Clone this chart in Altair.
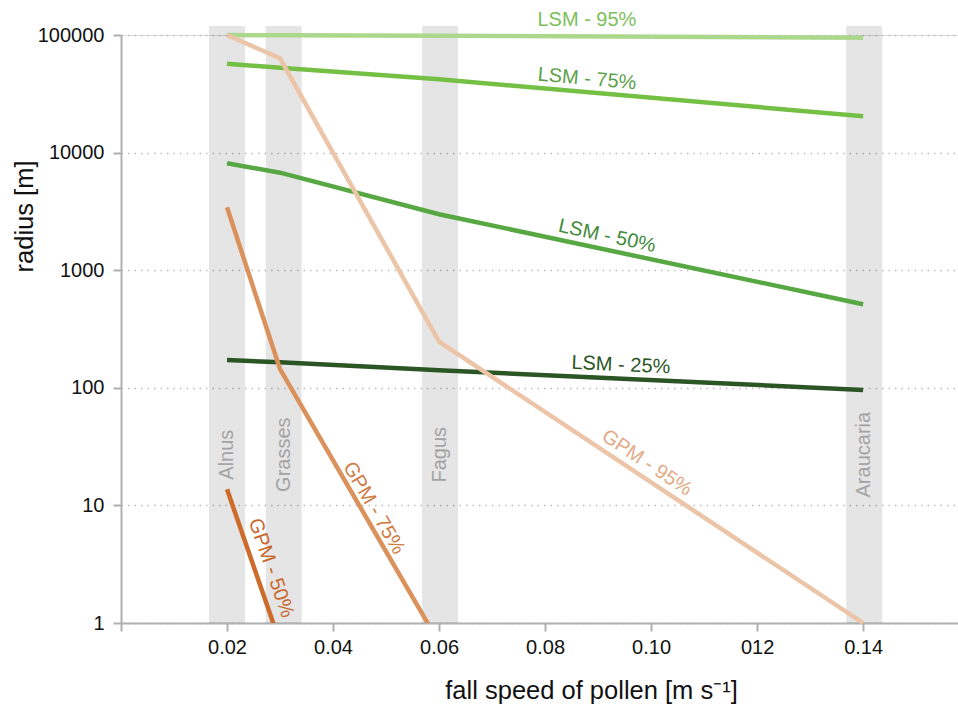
import altair as alt
import pandas as pd

FONT = "Liberation Sans"

# ---- data -------------------------------------------------------------
speeds = [0.02, 0.03, 0.06, 0.14]

series_names = ["LSM - 95%", "LSM - 75%", "LSM - 50%", "LSM - 25%",
                "GPM - 95%", "GPM - 75%", "GPM - 50%"]
lsm95 = [100000, 99300, 98600, 94800]
lsm75 = [57000, 52700, 42000, 20400]
lsm50 = [8110, 6750, 2990, 513]
lsm25 = [172, 165, 141, 96]
gpm95 = [100000, 63400, 247, 1]
gpm75 = [3430, 144, 0.68]
gpm50 = [13.7, 0.68]

line_colors = ["#acd88b", "#74c044", "#57a843", "#2c5525",
               "#ecc5a8", "#db915b", "#cd6b2b"]
label_colors = ["#7cc05a", "#5b9f48", "#3e8a3a", "#2c5525",
                "#e3aa86", "#d07a3f", "#c8662c"]

# label anchor points (data coords) and rotation
label_x = [0.0879, 0.0879, 0.0917, 0.0943, 0.0992, 0.0477, 0.0283]
label_y = [134200, 42300, 1955, 156, 23, 9.5, 2.94]
label_angle = [0, 5, 12, 2.6, 33.6, 59.8, 70.9]

band_names = ["Alnus", "Grasses", "Fagus", "Araucaria"]
band_speeds = [0.02, 0.0307, 0.0602, 0.1402]
band_label_y = 27

x_tick_values = [0, 0.02, 0.04, 0.06, 0.08, 0.10, 0.12, 0.14]
x_tick_labels = ["", "0.02", "0.04", "0.06", "0.08", "0.10", "012", "0.14"]
y_tick_values = [1, 10, 100, 1000, 10000, 100000]

# ---- tables -------------------------------------------------------------
all_vals = [lsm95, lsm75, lsm50, lsm25, gpm95, gpm75, gpm50]
rows = []
for name, vals, col in zip(series_names, all_vals, line_colors):
    for s, v in zip(speeds, vals):
        rows.append({"series": name, "speed": s, "radius": v, "color": col,
                     "clipped": name in ("GPM - 75%", "GPM - 50%")})
lines_df = pd.DataFrame(rows)

labels_df = pd.DataFrame({"series": series_names, "x": label_x, "y": label_y,
                          "angle": label_angle, "color": label_colors})
bands_df = pd.DataFrame({"name": band_names, "speed": band_speeds,
                         "ly": [band_label_y] * len(band_names)})

W, H = 837, 588
xscale = alt.Scale(domain=[0, 0.1579], nice=False, zero=False)
yscale = alt.Scale(type="log", domain=[1, 100000], nice=False)

label_expr = "[" + ",".join("'%s'" % t for t in x_tick_labels) + "][round(datum.value*50)]"

xaxis = alt.Axis(values=x_tick_values, labelExpr=label_expr, grid=False,
                 domainColor="#b0b0b0", domainWidth=2, tickColor="#b0b0b0",
                 tickWidth=2, tickSize=8, labelFontSize=20, labelFont=FONT,
                 labelColor="#111", labelPadding=6,
                 title="fall speed of pollen [m s⁻¹]", titleFont=FONT,
                 titleFontSize=25.5, titleFontWeight="normal", titleColor="#111",
                 titleBaseline="alphabetic", titleY=75, titleX=470,
                 titleAlign="center")
yaxis = alt.Axis(values=y_tick_values, format="d", grid=True,
                 gridDash=[1.5, 5], gridColor="#bdbdbd", gridWidth=1.5,
                 domainColor="#b0b0b0", domainWidth=2, tickColor="#b0b0b0",
                 tickWidth=2, tickSize=8, labelFontSize=20, labelFont=FONT,
                 labelColor="#111", labelPadding=9,
                 title="radius [m]", titleFont=FONT, titleFontSize=25.5,
                 titleFontWeight="normal", titleColor="#111", titleAngle=270,
                 titleBaseline="alphabetic", titleX=-89, titleY=181,
                 titleAlign="center")

bands = alt.Chart(bands_df).transform_calculate(
    x0="datum.speed - 0.0034", x1="datum.speed + 0.0034"
).mark_rect(color="black", opacity=0.1).encode(
    x=alt.X("x0:Q", scale=xscale, axis=xaxis),
    x2="x1:Q",
    y=alt.value(-9),
    y2=alt.value(H),
)

band_text = alt.Chart(bands_df).mark_text(
    font=FONT, fontSize=20, color="#a3a3a3", angle=270, baseline="middle",
    align="center"
).encode(
    x=alt.X("speed:Q", scale=xscale),
    y=alt.Y("ly:Q", scale=yscale, axis=yaxis),
    text="name:N",
)

lines_open = alt.Chart(lines_df).transform_filter("!datum.clipped").mark_line(
    strokeWidth=4.5, clip=False
).encode(
    x=alt.X("speed:Q", scale=xscale),
    y=alt.Y("radius:Q", scale=yscale),
    color=alt.Color("color:N", scale=None),
    detail="series:N",
)

lines_clip = alt.Chart(lines_df).transform_filter("datum.clipped").mark_line(
    strokeWidth=4.5, clip=True
).encode(
    x=alt.X("speed:Q", scale=xscale),
    y=alt.Y("radius:Q", scale=yscale),
    color=alt.Color("color:N", scale=None),
    detail="series:N",
)

labels = alt.Chart(labels_df).mark_text(
    font=FONT, fontSize=20, baseline="middle", align="center"
).encode(
    x=alt.X("x:Q", scale=xscale),
    y=alt.Y("y:Q", scale=yscale),
    text="series:N",
    color=alt.Color("color:N", scale=None),
    angle=alt.Angle("angle:Q", scale=None),
)

chart = alt.layer(bands, band_text, lines_open, lines_clip, labels).properties(
    width=W, height=H,
    autosize=alt.AutoSizeParams(type="none"),
    padding={"left": 121, "top": 35, "right": 0, "bottom": 84},
).configure_view(stroke=None).configure(background="white")

chart.save("out.html", embed_options={"renderer": "svg", "actions": False})
